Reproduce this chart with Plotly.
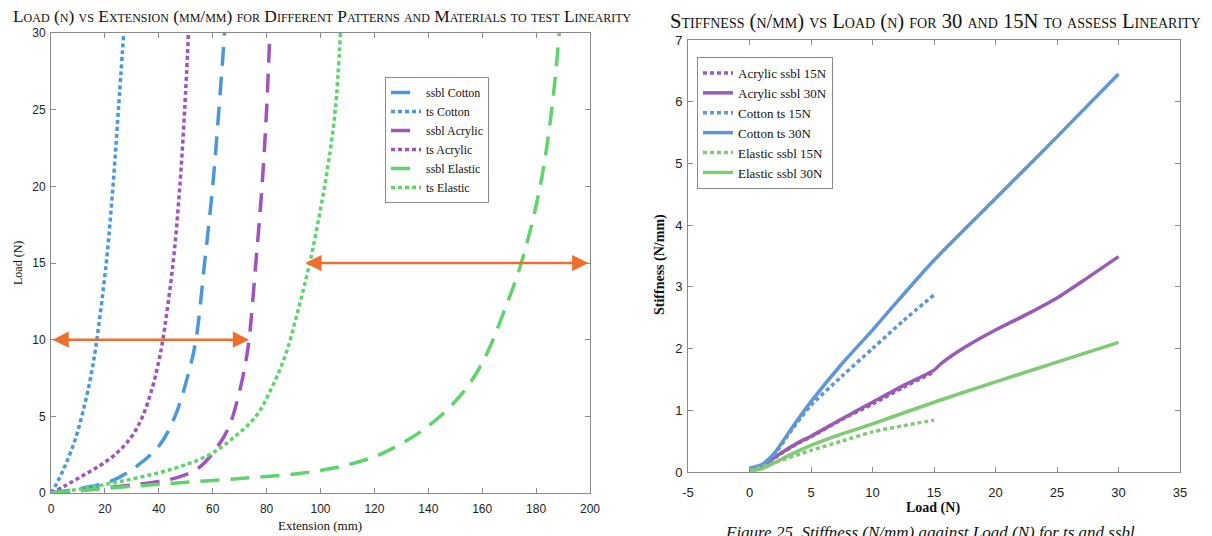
import plotly.graph_objects as go

# ---------------- Load vs Extension data ----------------
ssbl_cotton_ext = [0, 11, 22.7, 31.4, 40.2, 46, 51.3, 53.8, 57, 60, 62.3, 64.4]
ssbl_cotton_load = [0, 0.3, 0.8, 1.7, 3.1, 5, 8.0, 10, 15, 20, 25, 30]

ts_cotton_ext = [0, 2, 4, 6, 9, 12, 15, 17, 20.5, 23, 25, 27]
ts_cotton_load = [0, 0.6, 1.3, 2.1, 3.5, 5.4, 7.8, 10, 15, 20, 25, 30]

ssbl_acrylic_ext = [0, 15, 32, 45, 54.8, 61.7, 66, 69.5, 72, 73.5, 76, 78.3, 80, 81.2]
ssbl_acrylic_load = [0, 0.25, 0.57, 0.92, 1.64, 3.0, 4.3, 6.3, 8.3, 10, 15, 20, 25, 30]

ts_acrylic_ext = [0, 5, 10, 15, 20, 25, 30, 34, 37.5, 40, 41.5, 45.3, 47.8, 49.6, 51]
ts_acrylic_load = [0, 0.45, 0.95, 1.45, 2.0, 2.7, 3.7, 5, 6.8, 8.6, 10, 15, 20, 25, 30]

ssbl_elastic_ext = [0, 11, 22, 44, 68, 92, 108, 120.5, 128.8, 138, 148, 156, 162, 168, 174.5, 181.5, 185.8, 188.6]
ssbl_elastic_load = [0, 0.15, 0.32, 0.62, 0.92, 1.27, 1.75, 2.4, 3.1, 4.1, 5.6, 7.3, 9.2, 11.8, 15, 20, 25, 30]

ts_elastic_ext = [0, 11.4, 26.5, 44.7, 58.3, 66.7, 76, 82, 87, 91.5, 96, 100, 103, 105.5, 107.4]
ts_elastic_load = [0, 0.28, 0.78, 1.55, 2.45, 3.46, 5, 6.9, 9, 11.8, 15, 18.5, 21.6, 25, 30]

# double-headed marker arrows: (start ext, end ext, load)
arrow_spans = [(0, 73.5, 10), (93.8, 199.4, 15)]

# ---------------- Stiffness vs Load data ----------------
acrylic_15_load = [0, 1.1, 2.5, 4, 5, 7.5, 10, 12.5, 15]
acrylic_15_stiff = [0.05, 0.1, 0.29, 0.47, 0.57, 0.85, 1.1, 1.37, 1.62]

acrylic_30_load = [0, 1.1, 2.5, 4, 5, 7.5, 10, 12.5, 15, 15.6, 17.5, 20, 22.5, 25, 27.5, 30]
acrylic_30_stiff = [0.05, 0.11, 0.3, 0.48, 0.58, 0.86, 1.13, 1.4, 1.65, 1.76, 2.02, 2.3, 2.55, 2.82, 3.15, 3.49]

cotton_15_load = [0, 1, 2, 3.5, 5, 7.5, 10, 12.5, 15]
cotton_15_stiff = [0.05, 0.1, 0.28, 0.7, 1.08, 1.55, 2.0, 2.45, 2.87]

cotton_30_load = [0, 1, 2, 3.5, 5, 7.5, 10, 12, 15, 20, 25, 30]
cotton_30_stiff = [0.06, 0.12, 0.3, 0.73, 1.14, 1.75, 2.3, 2.76, 3.43, 4.43, 5.43, 6.45]

elastic_15_load = [0, 2, 5, 7.5, 10, 12.5, 15]
elastic_15_stiff = [0.02, 0.15, 0.35, 0.5, 0.65, 0.75, 0.84]

elastic_30_load = [0, 1, 3, 5, 7, 10, 15, 20, 25, 30]
elastic_30_stiff = [0.02, 0.05, 0.25, 0.43, 0.58, 0.78, 1.13, 1.46, 1.78, 2.1]

load_ticks = [-5, 0, 5, 10, 15, 20, 25, 30, 35]
load_tick_text = ["-5", "0", "5", "10", "15", "20", "25", "30", "35"]

# ---------------- styling ----------------
W, H = 1212, 536
BLUE, PURPLE, GREEN = "#4A98DC", "#A052BE", "#5ED56C"
BLUE2, PURPLE2, GREEN2 = "#5E97D3", "#9A5BB6", "#7ECB73"
ORANGE = "#EE6F2D"
SERIF = "Liberation Serif, Times New Roman, serif"
SANS = "Liberation Sans, Arial, sans-serif"
DASH = "19px,11px"
DOT = "4px,3px"


def px_x(p):
    return p / W


def px_y(p):
    return 1 - p / H


fig = go.Figure()

left_series = [
    ("ssbl Cotton", ssbl_cotton_ext, ssbl_cotton_load, BLUE, DASH),
    ("ts Cotton", ts_cotton_ext, ts_cotton_load, BLUE, DOT),
    ("ssbl Acrylic", ssbl_acrylic_ext, ssbl_acrylic_load, PURPLE, DASH),
    ("ts Acrylic", ts_acrylic_ext, ts_acrylic_load, PURPLE, DOT),
    ("ssbl Elastic", ssbl_elastic_ext, ssbl_elastic_load, GREEN, DASH),
    ("ts Elastic", ts_elastic_ext, ts_elastic_load, GREEN, DOT),
]
for name, xs, ys, col, dash in left_series:
    fig.add_trace(go.Scatter(
        x=xs, y=ys, name=name, mode="lines", xaxis="x", yaxis="y",
        line=dict(color=col, width=3.5, dash=dash, shape="spline", smoothing=1),
        legend="legend",
    ))

right_series = [
    ("Acrylic ssbl 15N", acrylic_15_load, acrylic_15_stiff, PURPLE2, DOT),
    ("Acrylic ssbl 30N", acrylic_30_load, acrylic_30_stiff, PURPLE2, "solid"),
    ("Cotton ts 15N", cotton_15_load, cotton_15_stiff, BLUE2, DOT),
    ("Cotton ts 30N", cotton_30_load, cotton_30_stiff, BLUE2, "solid"),
    ("Elastic ssbl 15N", elastic_15_load, elastic_15_stiff, GREEN2, DOT),
    ("Elastic ssbl 30N", elastic_30_load, elastic_30_stiff, GREEN2, "solid"),
]
for name, xs, ys, col, dash in right_series:
    fig.add_trace(go.Scatter(
        x=xs, y=ys, name=name, mode="lines", xaxis="x2", yaxis="y2",
        line=dict(color=col, width=3.5, dash=dash, shape="spline", smoothing=0.7),
        legend="legend2",
    ))


def axis_style(size, standoff):
    return dict(
        showline=True, linecolor="#8a8a8a", linewidth=1, mirror="ticks",
        ticks="inside", ticklen=5, tickcolor="#8a8a8a", showgrid=False,
        zeroline=False, automargin=False, ticklabelstandoff=standoff,
        tickfont=dict(family=SANS, size=size, color="#222222"),
    )


fig.update_layout(
    width=W, height=H,
    margin=dict(l=0, r=0, t=0, b=0),
    paper_bgcolor="white", plot_bgcolor="white",
    xaxis=dict(domain=[px_x(51), px_x(590)], range=[0, 200], dtick=20,
               anchor="y", **axis_style(12, 5)),
    yaxis=dict(domain=[px_y(493), px_y(33)], range=[0, 30], dtick=5,
               anchor="x", **axis_style(12, 2)),
    xaxis2=dict(domain=[px_x(688), px_x(1180)], range=[-5, 35],
                tickvals=load_ticks, ticktext=load_tick_text,
                anchor="y2", **axis_style(13, 8)),
    yaxis2=dict(domain=[px_y(472), px_y(40)], range=[0, 7], dtick=1,
                anchor="x2", **axis_style(13, 2)),
    legend=dict(
        x=px_x(385), y=px_y(77), xanchor="left", yanchor="top",
        bgcolor="white", bordercolor="#8a8a8a", borderwidth=1,
        font=dict(family=SERIF, size=12, color="#111111"),
        tracegroupgap=0, itemwidth=30,
    ),
    legend2=dict(
        x=px_x(697), y=px_y(57), xanchor="left", yanchor="top",
        bgcolor="white", bordercolor="#8a8a8a", borderwidth=1,
        font=dict(family=SERIF, size=13, color="#111111"),
        tracegroupgap=0, itemwidth=30,
    ),
    showlegend=True,
)

# orange double-headed arrows
for x0, x1, yv in arrow_spans:
    fig.add_annotation(
        x=x1, y=yv, ax=x0, ay=yv, xref="x", yref="y", axref="x", ayref="y",
        text="", showarrow=True, arrowside="end+start",
        arrowhead=2, startarrowhead=2, arrowsize=1.3, startarrowsize=1.3,
        arrowwidth=2.5, arrowcolor=ORANGE,
    )


def label(px, py, text, size, angle=0, variant="normal", yanchor="middle"):
    fig.add_annotation(
        x=px_x(px), y=px_y(py), xref="paper", yref="paper", showarrow=False,
        xanchor="center", yanchor=yanchor, text=text, textangle=angle,
        font=dict(family=SERIF, size=size, color="#111111", variant=variant),
    )


# titles
label(322, 16, "Load (n) vs Extension (mm/mm) for Different Patterns and Materials to test Linearity",
      17.4, variant="small-caps")
label(935, 22, "Stiffness (n/mm) vs Load (n) for 30 and 15N to assess Linearity",
      20.6, variant="small-caps")

# axis titles
label(18, 263, "Load (N)", 12, angle=-90)
label(320, 525, "Extension (mm)", 13)
label(660, 265, "<b>Stiffness (N/mm)</b>", 14, angle=-90)
label(933, 508, "<b>Load (N)</b>", 14)

# figure caption
label(930, 521, "<i>Figure 25. Stiffness (N/mm) against Load (N) for ts and ssbl</i>",
      17, yanchor="top")

fig.write_html("out.html")
